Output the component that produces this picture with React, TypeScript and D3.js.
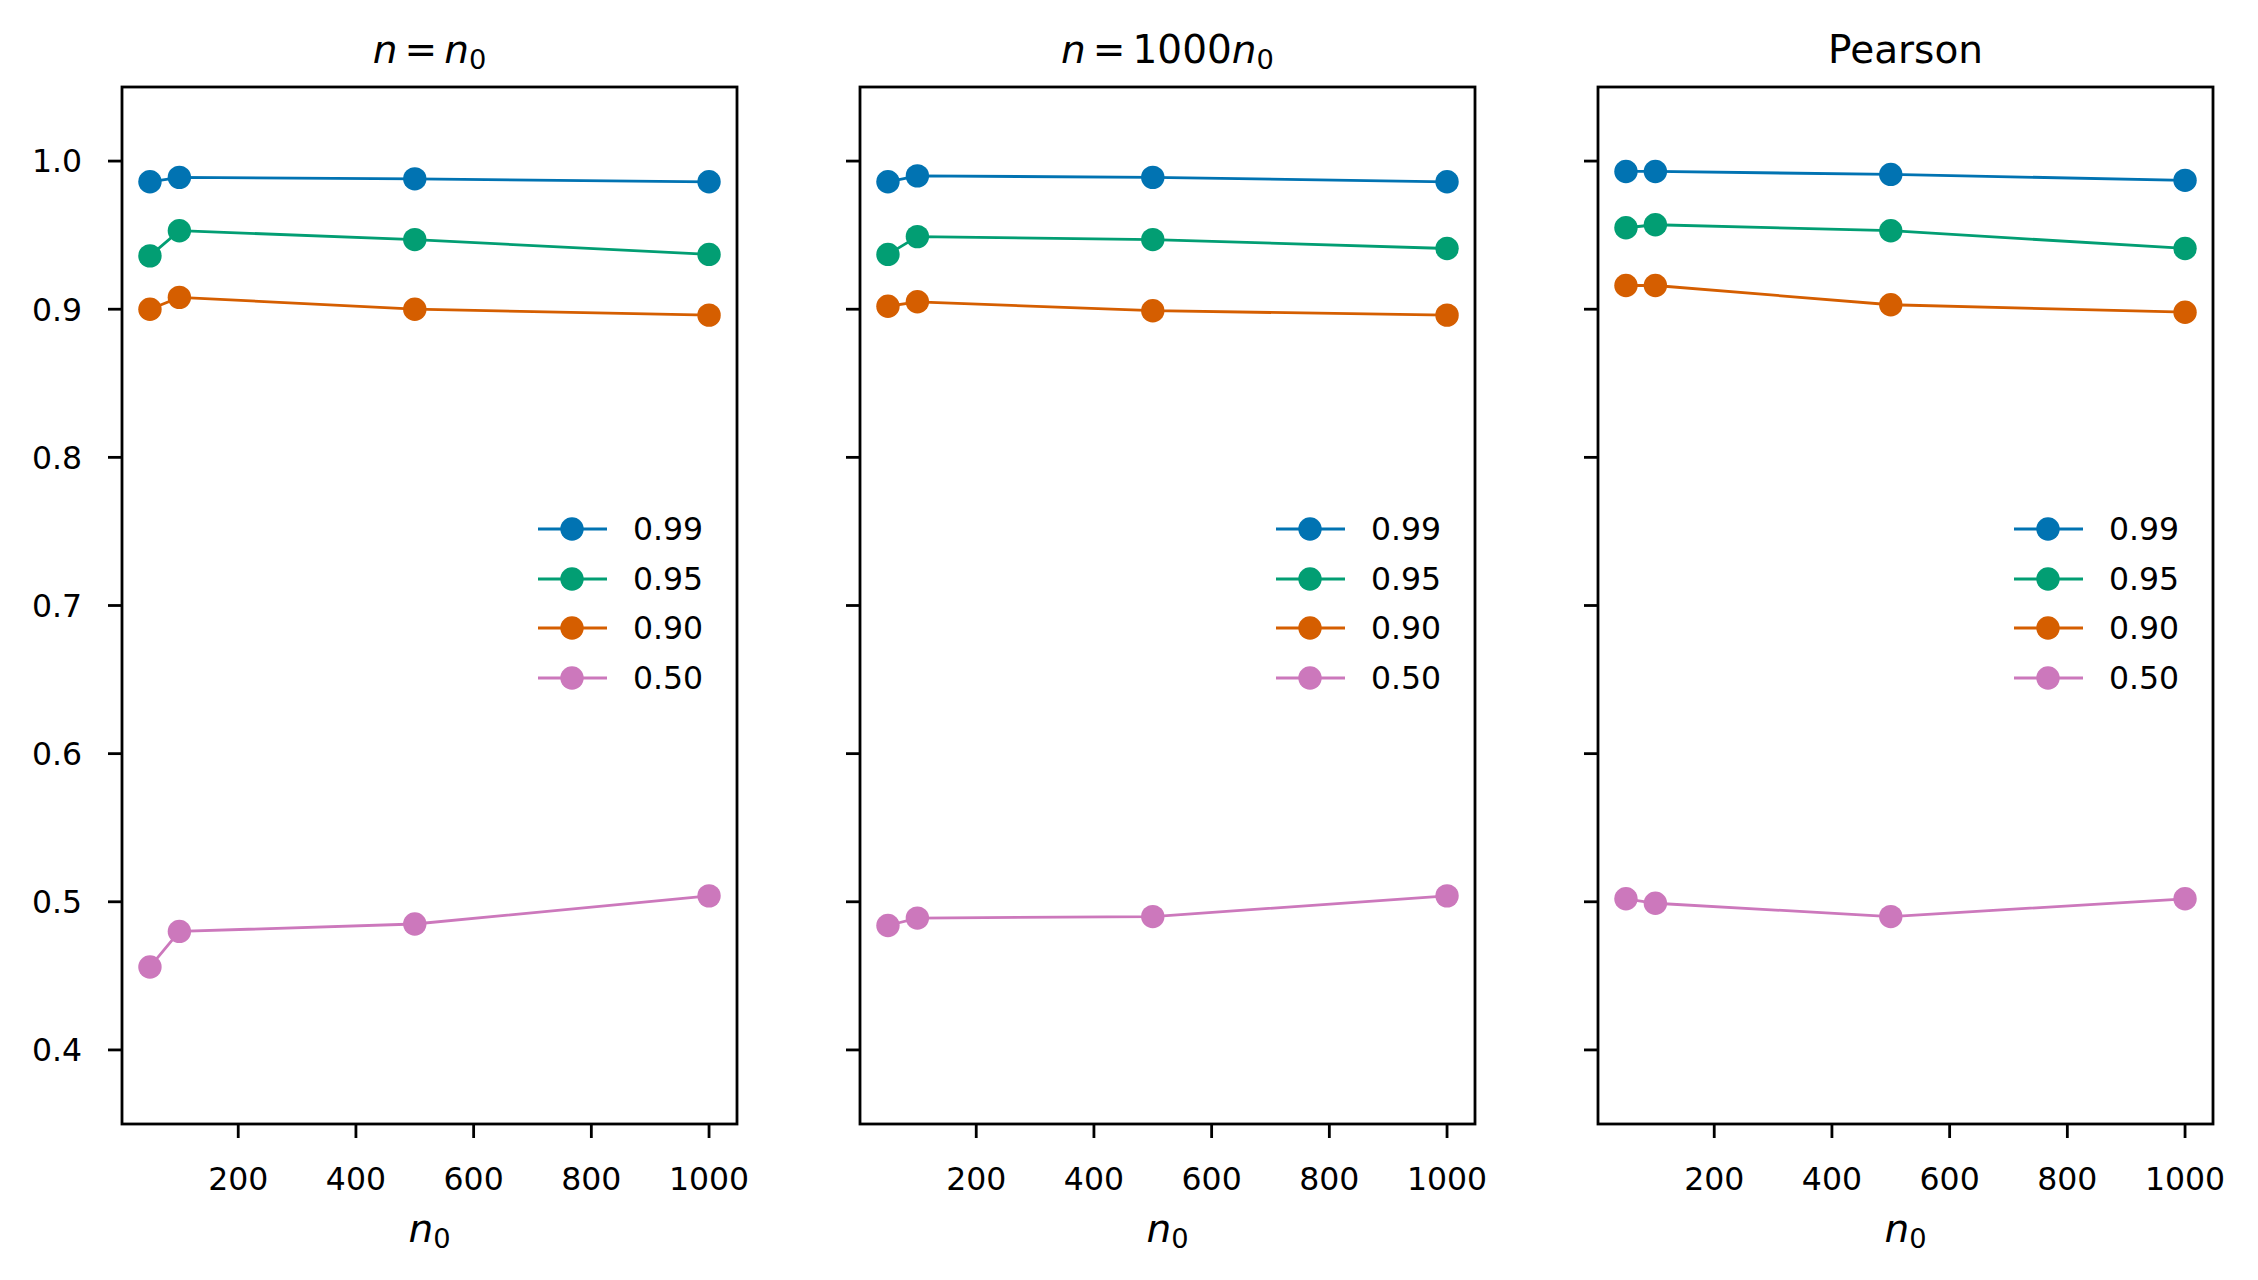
import * as d3 from "d3";

// x values shared by every panel
const n0Values = [50, 100, 500, 1000];
const levelLabels = ["0.99", "0.95", "0.90", "0.50"];
const levelColors = ["#0173b2", "#029e73", "#d55e00", "#cc78bc"];

// coverage per level, one row per level, one column per n0
const sameN = [
  [0.986, 0.989, 0.988, 0.986],
  [0.936, 0.953, 0.947, 0.937],
  [0.9, 0.908, 0.9, 0.896],
  [0.456, 0.48, 0.485, 0.504],
];
const bigN = [
  [0.986, 0.99, 0.989, 0.986],
  [0.937, 0.949, 0.947, 0.941],
  [0.902, 0.905, 0.899, 0.896],
  [0.484, 0.489, 0.49, 0.504],
];
const pearson = [
  [0.993, 0.993, 0.991, 0.987],
  [0.955, 0.957, 0.953, 0.941],
  [0.916, 0.916, 0.903, 0.898],
  [0.502, 0.499, 0.49, 0.502],
];

const xTicks = [200, 400, 600, 800, 1000];
const yTicks = [0.4, 0.5, 0.6, 0.7, 0.8, 0.9, 1.0];

const W = 2258;
const H = 1280;
const top = 87;
const bottom = 1124;
const plotW = 615;
const gap = 123;
const firstLeft = 122;

const small = 31.5;
const big = 39;
const font = "DejaVu Sans";

const y = d3.scaleLinear().domain([0.35, 1.05]).range([bottom, top]);

function Title({ i, cx }: { i: number; cx: number }) {
  const base = 63;
  if (i === 2) {
    return (
      <text x={cx} y={base} textAnchor="middle" fontSize={big}>
        Pearson
      </text>
    );
  }
  return (
    <text x={cx} y={base} textAnchor="middle" fontSize={big}>
      <tspan fontStyle="italic">n</tspan>
      <tspan dx={7}>=</tspan>
      {i === 1 ? <tspan dx={7}>1000</tspan> : null}
      <tspan dx={i === 1 ? 0 : 7} fontStyle="italic">n</tspan>
      <tspan fontSize={big * 0.7} dy={6}>0</tspan>
    </text>
  );
}

function Panel({ i, data }: { i: number; data: number[][] }) {
  const left = firstLeft + i * (plotW + gap);
  const x = d3
    .scaleLinear()
    .domain([2.5, 1047.5])
    .range([left, left + plotW]);
  const line = d3
    .line<number>()
    .x((_, k) => x(n0Values[k]))
    .y((v) => y(v));
  const right = left + plotW;
  const legendRows = [529, 579, 628, 678];

  return (
    <g>
      {data.map((vals, s) => (
        <g key={s}>
          <path d={line(vals) || ""} fill="none" stroke={levelColors[s]} strokeWidth={2.8} />
          {vals.map((v, k) => (
            <circle key={k} cx={x(n0Values[k])} cy={y(v)} r={11.7} fill={levelColors[s]} />
          ))}
        </g>
      ))}

      {/* legend, center right, no frame */}
      {levelLabels.map((lab, s) => (
        <g key={lab}>
          <line
            x1={right - 199}
            x2={right - 130}
            y1={legendRows[s]}
            y2={legendRows[s]}
            stroke={levelColors[s]}
            strokeWidth={2.8}
          />
          <circle cx={right - 165} cy={legendRows[s]} r={11.7} fill={levelColors[s]} />
          <text x={right - 104} y={legendRows[s]} dy="0.36em" fontSize={small}>
            {lab}
          </text>
        </g>
      ))}

      <rect x={left} y={top} width={plotW} height={bottom - top} fill="none" stroke="#000" strokeWidth={2.8} />

      {xTicks.map((t) => (
        <g key={t}>
          <line x1={x(t)} x2={x(t)} y1={bottom} y2={bottom + 14} stroke="#000" strokeWidth={2.8} />
          <text x={x(t)} y={1190} textAnchor="middle" fontSize={small}>
            {t}
          </text>
        </g>
      ))}
      {yTicks.map((t) => (
        <g key={t}>
          <line x1={left - 14} x2={left} y1={y(t)} y2={y(t)} stroke="#000" strokeWidth={2.8} />
          {i === 0 ? (
            <text x={left - 40} y={y(t)} dy="0.36em" textAnchor="end" fontSize={small}>
              {t.toFixed(1)}
            </text>
          ) : null}
        </g>
      ))}

      <Title i={i} cx={left + plotW / 2} />
      <text x={left + plotW / 2} y={1242} textAnchor="middle" fontSize={big}>
        <tspan fontStyle="italic">n</tspan>
        <tspan fontSize={big * 0.7} dy={6}>0</tspan>
      </text>
    </g>
  );
}

export default function App() {
  const panels = [sameN, bigN, pearson];
  return (
    <>
      <style>{`body{margin:0}`}</style>
      <svg width={W} height={H} fontFamily={font} style={{ display: "block", background: "#fff" }}>
        <rect width={W} height={H} fill="#fff" />
        {panels.map((d, i) => (
          <Panel key={i} i={i} data={d} />
        ))}
      </svg>
    </>
  );
}
